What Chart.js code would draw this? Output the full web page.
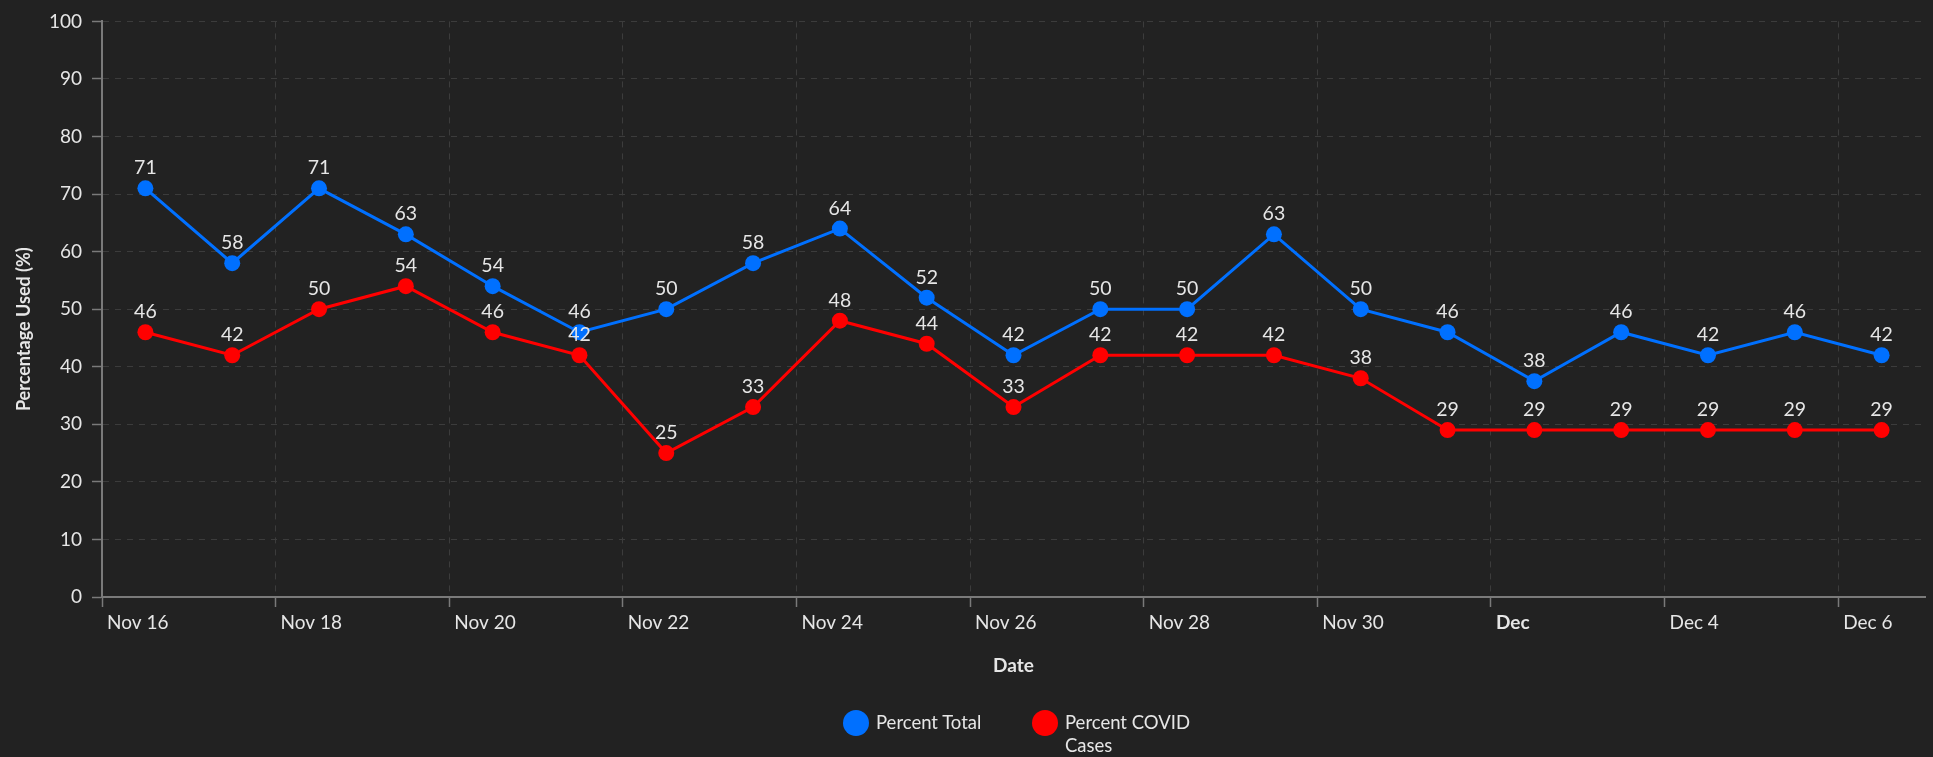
<!DOCTYPE html>
<html><head><meta charset="utf-8">
<script src="https://cdn.jsdelivr.net/npm/chart.js@4.4.1/dist/chart.umd.min.js"></script>
<style>
html,body{margin:0;padding:0;background:#222222;overflow:hidden;}
#wrap{position:relative;width:1933px;height:757px;background:#222222;}
canvas{display:block;}
.li{position:absolute;display:flex;align-items:flex-start;font-family:Lato,sans-serif;font-size:18.5px;color:#e6e6e6;}
.dot{width:26px;height:26px;border-radius:50%;flex:none;}
.lt{margin-left:7px;margin-top:1px;line-height:23px;width:145px;}
</style></head><body>
<div id="wrap"><canvas id="c" width="1933" height="757"></canvas></div>
<script>
const dates = ['Nov 16','Nov 17','Nov 18','Nov 19','Nov 20','Nov 21','Nov 22','Nov 23','Nov 24','Nov 25','Nov 26','Nov 27','Nov 28','Nov 29','Nov 30','Dec 1','Dec 2','Dec 3','Dec 4','Dec 5','Dec 6'];
const percentTotal = [71,58,71,63,54,46,50,58,64,52,42,50,50,63,50,46,37.5,46,42,46,42];
const percentCovid = [46,42,50,54,46,42,25,33,48,44,33,42,42,42,38,29,29,29,29,29,29];
const xTickDays = [0,2,4,6,8,10,12,14,16,18,20];
const xTickLabels = ['Nov 16','Nov 18','Nov 20','Nov 22','Nov 24','Nov 26','Nov 28','Nov 30','Dec','Dec 4','Dec 6'];
const yTicks = [0,10,20,30,40,50,60,70,80,90,100];
const seriesNames = ['Percent Total','Percent COVID Cases'];
const seriesColors = ['#0070ff','#ff0000'];
const yTitle = 'Percentage Used (%)';
const legendX = [843, 1032];

const FONT = 'Lato, sans-serif';
const TXT = '#e6e6e6';

// each daily value sits at the middle of its day
const toPoints = arr => arr.map((v,i)=>({x:i+0.5, y:v}));

const pointLabels = {
  id:'pointLabels',
  afterDatasetsDraw(chart){
    const ctx = chart.ctx;
    ctx.save();
    ctx.font = '19.5px ' + FONT;
    ctx.fillStyle = TXT;
    ctx.textAlign = 'center';
    ctx.textBaseline = 'alphabetic';
    chart.data.datasets.forEach((ds,di)=>{
      const meta = chart.getDatasetMeta(di);
      meta.data.forEach((pt,i)=>{
        ctx.fillText(String(Math.round(ds.data[i].y)), pt.x, pt.y - 14);
      });
    });
    ctx.restore();
  }
};

// y-axis title, centred slightly below the plot middle as in the source
const yTitlePlugin = {
  id:'yTitlePlugin',
  afterDraw(chart){
    const ctx = chart.ctx, a = chart.chartArea;
    ctx.save();
    ctx.translate(24, (a.top + a.bottom)/2 + 20);
    ctx.rotate(-Math.PI/2);
    ctx.font = 'bold 18px ' + FONT;
    ctx.fillStyle = TXT;
    ctx.textAlign = 'center';
    ctx.textBaseline = 'middle';
    ctx.fillText(yTitle, 0, 0);
    ctx.restore();
  }
};

const mkDs = (name, data, color) => ({
  label: name, data: toPoints(data),
  borderColor: color, backgroundColor: color,
  borderWidth: 3, pointRadius: 8, pointHoverRadius: 8,
  pointBorderWidth: 0, pointBackgroundColor: color, tension: 0
});

new Chart(document.getElementById('c'), {
  type: 'line',
  data: { datasets: [
    mkDs(seriesNames[0], percentTotal, seriesColors[0]),
    mkDs(seriesNames[1], percentCovid, seriesColors[1])
  ]},
  options: {
    responsive: false, animation: false, events: [],
    layout: { padding: { top: 20, right: 0, bottom: 0, left: 0 } },
    plugins: { legend: { display: false }, tooltip: { enabled: false } },
    scales: {
      x: {
        type: 'linear', min: 0, max: 21,
        afterBuildTicks: s => { s.ticks = xTickDays.map(v=>({value:v})); },
        afterFit: s => { s.height = 160; },
        ticks: {
          align: 'start', padding: 4, labelOffset: 5, maxRotation: 0, autoSkip: false,
          color: TXT,
          callback: (v) => xTickLabels[xTickDays.indexOf(v)] ?? '',
          font: (c) => ({ family: FONT, size: 19, weight: (c.tick && xTickLabels[xTickDays.indexOf(c.tick.value)] === 'Dec') ? 'bold' : 'normal' })
        },
        grid: { color: '#3c3c3c', lineWidth: 1, tickLength: 10, tickColor: '#7a7a7a', tickWidth: 1.5 },
        border: { color: '#7a7a7a', width: 2, dash: [6,6] },
        title: { display: true, text: 'Date', color: TXT, font: { family: FONT, size: 19, weight: 'bold' }, padding: { top: 0, bottom: 80 } }
      },
      y: {
        min: 0, max: 100,
        afterBuildTicks: s => { s.ticks = yTicks.map(v=>({value:v})); },
        afterFit: s => { s.width = 102; },
        ticks: { color: TXT, padding: 10, font: { family: FONT, size: 19 } },
        grid: { color: '#3c3c3c', lineWidth: 1, tickLength: 10, tickColor: '#7a7a7a', tickWidth: 1.5 },
        border: { color: '#7a7a7a', width: 2, dash: [6,6] },
        title: { display: false, text: yTitle }
      }
    }
  },
  plugins: [pointLabels, yTitlePlugin]
});

// HTML legend
const wrap = document.getElementById('wrap');
seriesNames.forEach((n,i)=>{
  const d = document.createElement('div');
  d.className = 'li';
  d.style.left = legendX[i] + 'px';
  d.style.top = '710px';
  d.innerHTML = '<span class="dot" style="background:'+seriesColors[i]+'"></span><span class="lt">'+n+'</span>';
  wrap.appendChild(d);
});
</script>
</body></html>
